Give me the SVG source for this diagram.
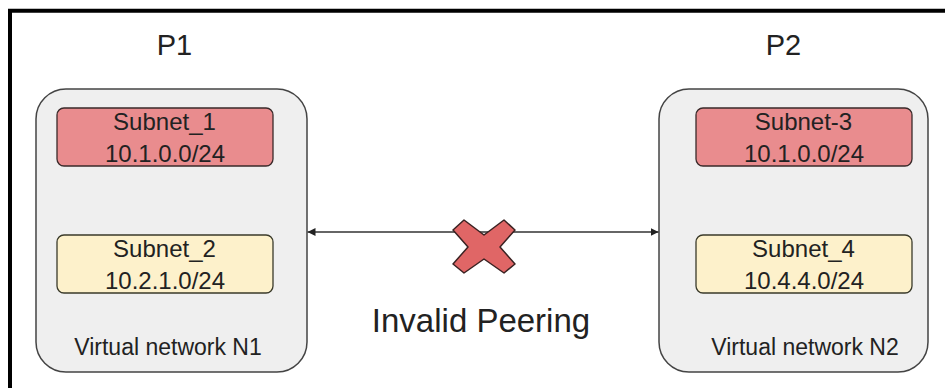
<svg xmlns="http://www.w3.org/2000/svg" width="945" height="388" viewBox="0 0 945 388">
<defs>
<style>
.t{font-family:"Liberation Sans",Arial,sans-serif;fill:#222;text-anchor:middle}
.s{font-size:24px}
.vt{font-size:23px}
.vn{fill:#efefef;stroke:#444;stroke-width:1.5}
.red{fill:#e98c8e;stroke:#3a2a2a;stroke-width:1.3}
.yel{fill:#fdf1cb;stroke:#3a3a2a;stroke-width:1.3}
.conn{stroke:#333;stroke-width:1.3;fill:none}
</style>
<marker id="ah" viewBox="0 0 10 10" refX="10" refY="5" markerWidth="8" markerHeight="8" markerUnits="userSpaceOnUse" orient="auto-start-reverse">
<path d="M0,0 L10,5 L0,10 z" fill="#222"/>
</marker>
</defs>
<rect width="945" height="388" fill="#fff"/>
<path d="M10,388 V10.8 H945" fill="none" stroke="#000" stroke-width="4"/>
<g id="N1">
<text class="t" x="174.5" y="55" font-size="29">P1</text>
<rect class="vn" x="36" y="89" width="271" height="283" rx="30"/>
<text class="t vt" x="168" y="355">Virtual network N1</text>
</g>
<g id="Subnet_1">
<rect class="red" x="57" y="108" width="216" height="58" rx="7"/>
<text class="t s" x="164.5" y="130">Subnet_1</text>
<text class="t s" x="165" y="162">10.1.0.0/24</text>
</g>
<g id="Subnet_2">
<rect class="yel" x="57" y="235" width="216" height="58" rx="7"/>
<text class="t s" x="164.5" y="257">Subnet_2</text>
<text class="t s" x="165" y="289">10.2.1.0/24</text>
</g>
<g id="N2">
<text class="t" x="783.5" y="55" font-size="29">P2</text>
<rect class="vn" x="659" y="89" width="269" height="283" rx="30"/>
<text class="t vt" x="805" y="355">Virtual network N2</text>
</g>
<g id="Subnet_3">
<rect class="red" x="696" y="108" width="216" height="58" rx="7"/>
<text class="t s" x="803.5" y="130">Subnet-3</text>
<text class="t s" x="804" y="162">10.1.0.0/24</text>
</g>
<g id="Subnet_4">
<rect class="yel" x="696" y="235" width="216" height="58" rx="7"/>
<text class="t s" x="803.5" y="257">Subnet_4</text>
<text class="t s" x="804" y="289">10.4.4.0/24</text>
</g>
<g id="connectors">
<line class="conn" x1="307.5" y1="232" x2="658.5" y2="232" marker-start="url(#ah)" marker-end="url(#ah)"/>
</g>
<g id="invalid">
<polygon transform="translate(484,247)" points="-20,-27 0,-12 20,-27 31,-17 16,0 31,17 20,26 0,12 -20,26 -31,17 -16,0 -31,-17" fill="#e06666" stroke="#3a2222" stroke-width="1.5" stroke-linejoin="round"/>
<text class="t" x="481" y="332" font-size="33">Invalid Peering</text>
</g>
</svg>
